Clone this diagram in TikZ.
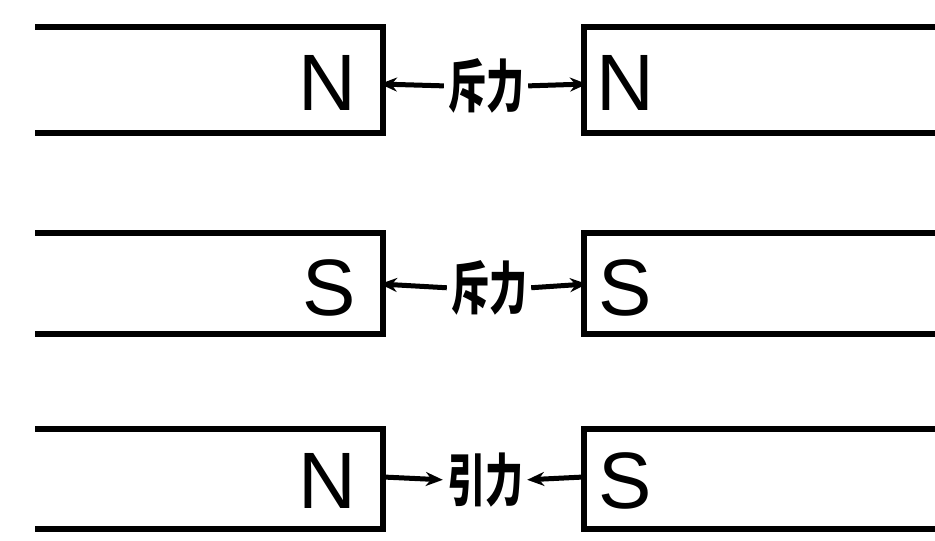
\documentclass[tikz,border=0pt]{standalone}
\usepackage{fontspec}
\setmainfont{Liberation Sans}
\newfontfamily\cjk{Noto Sans CJK SC}
\usetikzlibrary{arrows.meta}
\begin{document}
\begin{tikzpicture}[x=1pt,y=-1pt,
  mag/.style={line width=6.5pt},
  pole/.style={font=\fontsize{80}{80}\selectfont, inner sep=0pt},
  force/.style={font=\cjk\bfseries\fontsize{38}{38}\selectfont, inner sep=0pt},
  arr/.style={line width=5pt, -{Stealth[length=17pt,width=14pt]}, shorten <=4pt}]
\useasboundingbox (0,0) rectangle (935,541);
% row 1
\draw[mag] (35,27) -- (383,27) -- (383,133) -- (35,133);
\draw[mag] (935,27) -- (584,27) -- (584,133) -- (935,133);
\coordinate (f1L) at (380,84);
\coordinate (f1R) at (587,84);
\node[pole, anchor=base east] (n1L) at (356,110) {N};
\node[pole, anchor=base west] (n1R) at (596,110) {N};
\node[force] (l1) at (486,86) {\scalebox{1}[1.5]{斥力}};
\draw[arr] (l1.west) -- (f1L);
\draw[arr] (l1.east) -- (f1R);
% row 2
\draw[mag] (35,233) -- (383,233) -- (383,334) -- (35,334);
\draw[mag] (935,233) -- (584,233) -- (584,334) -- (935,334);
\coordinate (f2L) at (380,284);
\coordinate (f2R) at (587,284);
\node[pole, anchor=base east] (n2L) at (356,315) {S};
\node[pole, anchor=base west] (n2R) at (598,315) {S};
\node[force] (l2) at (489,288) {\scalebox{1}[1.5]{斥力}};
\draw[arr] (l2.west) -- (f2L);
\draw[arr] (l2.east) -- (f2R);
% row 3
\draw[mag] (35,429) -- (383,429) -- (383,529) -- (35,529);
\draw[mag] (935,429) -- (584,429) -- (584,529) -- (935,529);
\coordinate (f3L) at (383,477);
\coordinate (f3R) at (584,477);
\node[pole, anchor=base east] (n3L) at (356,508) {N};
\node[pole, anchor=base west] (n3R) at (598,508) {S};
\node[force] (l3) at (485,480) {\scalebox{1}[1.5]{引力}};
\draw[arr, shorten <=0pt, shorten >=4pt] (f3L) -- (l3.west);
\draw[arr, shorten <=0pt, shorten >=4pt] (f3R) -- (l3.east);
\end{tikzpicture}
\end{document}
